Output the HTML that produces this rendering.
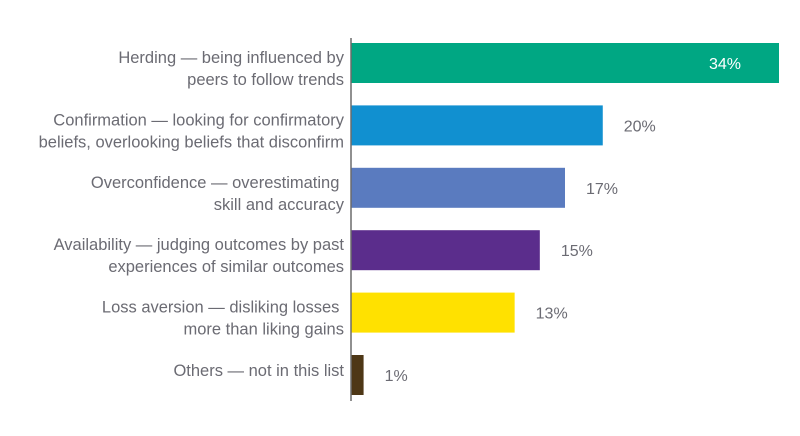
<!DOCTYPE html>
<html><head><meta charset="utf-8"><style>
html,body{margin:0;padding:0;background:#fff;}
svg{display:block;font-family:"Liberation Sans",sans-serif;}
</style></head><body>
<svg id="chart" width="800" height="436" viewBox="0 0 800 436">
<g id="labels"></g>
<g id="bars"></g>
<g id="values"></g>
<line x1="351" y1="38" x2="351" y2="401" stroke="#6b6b6b" stroke-width="1.5"/>
</svg>
<script>
const categories = [
  ["Herding \u2014 being influenced by", "peers to follow trends"],
  ["Confirmation \u2014 looking for confirmatory", "beliefs, overlooking beliefs that disconfirm"],
  ["Overconfidence \u2014 overestimating ", "skill and accuracy"],
  ["Availability \u2014 judging outcomes by past", "experiences of similar outcomes"],
  ["Loss aversion \u2014 disliking losses ", "more than liking gains"],
  ["Others \u2014 not in this list"]
];
const values = [34, 20, 17, 15, 13, 1];
const colors = ["#00a783", "#1190d0", "#5a7bbf", "#5b2d8c", "#ffe100", "#4e3716"];

const NS = "http://www.w3.org/2000/svg";
const x0 = 351, pxPerUnit = (779 - 351) / 34;
const yTop = 43, pitch = 62.4, barH = 40;
function xScale(v){ return x0 + v * pxPerUnit; }
function yScale(i){ return yTop + i * pitch; }

const gB = document.getElementById("bars"), gL = document.getElementById("labels"), gV = document.getElementById("values");
values.forEach((v, i) => {
  const y = yScale(i);
  const r = document.createElementNS(NS, "rect");
  r.setAttribute("x", x0);
  r.setAttribute("y", y);
  r.setAttribute("width", xScale(v) - x0);
  r.setAttribute("height", barH);
  r.setAttribute("fill", colors[i]);
  
  
  gB.appendChild(r);

  const t = document.createElementNS(NS, "text");
  const inside = i === 0;
  t.setAttribute("x", inside ? xScale(v) - 38 : xScale(v) + 21);
  t.setAttribute("y", y + barH / 2 + 6);
  t.setAttribute("font-size", "16");
  t.setAttribute("fill", inside ? "#ffffff" : "#6b6b73");
  t.setAttribute("text-anchor", inside ? "end" : "start");
  t.textContent = v + "%";
  
  
  gV.appendChild(t);

  const lines = categories[i];
  const lt = document.createElementNS(NS, "text");
  lt.setAttribute("text-anchor", "end");
  lt.setAttribute("font-size", "16.5");
  lt.setAttribute("fill", "#6b6b73");
  
  
  const base = lines.length === 1 ? y + barH / 2 + 1 : y + 20;
  lines.forEach((ln, k) => {
    const ts = document.createElementNS(NS, "tspan");
    ts.setAttribute("x", 344);
    ts.setAttribute("y", base + k * 22);
    ts.setAttribute("xml:space", "preserve");
    ts.textContent = ln;
    lt.appendChild(ts);
  });
  gL.appendChild(lt);
});
</script>
</body></html>
